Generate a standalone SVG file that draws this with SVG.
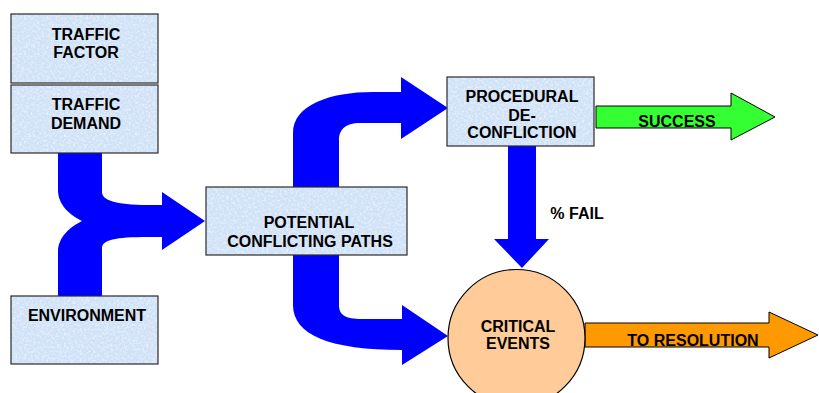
<svg xmlns="http://www.w3.org/2000/svg" width="819" height="393" viewBox="0 0 819 393">
  <defs>
    <!-- mottled light-blue paper fill for the boxes -->
    <filter id="paper" x="0" y="0" width="100%" height="100%">
      <feTurbulence type="fractalNoise" baseFrequency="0.45" numOctaves="2" seed="7" result="noise"/>
      <feColorMatrix in="noise" type="matrix" values="0 0 0 0 1  0 0 0 0 1  0 0 0 0 1  1.4 0 0 0 -0.62" result="specks"/>
      <feComposite in="specks" in2="SourceGraphic" operator="in" result="clipped"/>
      <feMerge>
        <feMergeNode in="SourceGraphic"/>
        <feMergeNode in="clipped"/>
      </feMerge>
    </filter>
    <style>
      .fill { fill: #d0e2f7; filter: url(#paper); }
      .edge { fill: none; stroke: #2a2a2a; stroke-width: 1.2; }
      .flow { fill: #0000ff; }
      .ok { fill: #33ff33; stroke: #000; stroke-width: 1; }
      .res { fill: #ff9900; stroke: #000; stroke-width: 1; }
      .circle { fill: #ffcc99; stroke: #000; stroke-width: 1.2; }
      text { font-family: "Liberation Sans", Arial, sans-serif; font-weight: bold; font-size: 16px; fill: #000; text-anchor: middle; }
    </style>
  </defs>

  <!-- connectors -->
  <g id="connectors">
    <!-- merge of traffic demand and environment into the conflicting paths box -->
    <path class="flow" d="M58,153 L58,190 C58,205 70,215 82,221 C70,227 58,237 58,252 L58,296 L102,296 L102,248 C102,240 115,237 148,237 L162,237 L162,250 L205,221 L162,192 L162,205 L148,205 C115,205 102,200 102,192 L102,153 Z"/>
    <!-- conflicting paths up to procedural de-confliction -->
    <path class="flow" d="M293,187 L293,133 C293,105 330,92 373,92 L401,92 L401,77 L448,108 L401,139 L401,123 L360,123 C345,123 339,130 339,140 L339,187 Z"/>
    <!-- conflicting paths down to critical events -->
    <path class="flow" d="M293,255 L293,305 C293,335 330,350 402,350 L402,365 L448,336 L402,305 L402,319 L362,319 C345,319 339,315 339,305 L339,255 Z"/>
    <!-- failure branch -->
    <path class="flow" d="M508,146 L536,146 L536,239 L549,239 L522,268 L494,239 L508,239 Z"/>
    <!-- success branch -->
    <path class="ok" d="M596,106 L731,106 L731,93 L775,117 L731,140 L731,128 L596,128 Z"/>
    <!-- onward to resolution -->
    <path class="res" d="M585,323 L769,323 L769,312 L818,335 L769,358 L769,347 L585,347 Z"/>
    <text x="677" y="127">SUCCESS</text>
    <text x="577" y="219">% FAIL</text>
    <text x="693" y="346">TO RESOLUTION</text>
  </g>

  <g id="traffic-factor">
    <rect class="fill" x="11" y="14" width="147" height="69"/>
    <rect class="edge" x="11" y="14" width="147" height="69"/>
    <text x="86" y="40">TRAFFIC</text>
    <text x="86" y="58">FACTOR</text>
  </g>

  <g id="traffic-demand">
    <rect class="fill" x="11" y="85" width="147" height="68"/>
    <rect class="edge" x="11" y="85" width="147" height="68"/>
    <text x="86" y="110">TRAFFIC</text>
    <text x="86" y="129">DEMAND</text>
  </g>

  <g id="environment">
    <rect class="fill" x="11" y="296" width="147" height="68"/>
    <rect class="edge" x="11" y="296" width="147" height="68"/>
    <text x="87" y="321">ENVIRONMENT</text>
  </g>

  <g id="potential-conflicting-paths">
    <rect class="fill" x="206" y="187" width="201" height="68"/>
    <rect class="edge" x="206" y="187" width="201" height="68"/>
    <text x="309" y="228">POTENTIAL</text>
    <text x="310" y="247">CONFLICTING PATHS</text>
  </g>

  <g id="procedural-de-confliction">
    <rect class="fill" x="447" y="77" width="147" height="69"/>
    <rect class="edge" x="447" y="77" width="147" height="69"/>
    <text x="522" y="102">PROCEDURAL</text>
    <text x="522" y="121">DE-</text>
    <text x="522" y="138">CONFLICTION</text>
  </g>

  <g id="critical-events">
    <circle class="circle" cx="516.5" cy="338" r="68.5"/>
    <text x="518" y="332">CRITICAL</text>
    <text x="518" y="349">EVENTS</text>
  </g>
</svg>
